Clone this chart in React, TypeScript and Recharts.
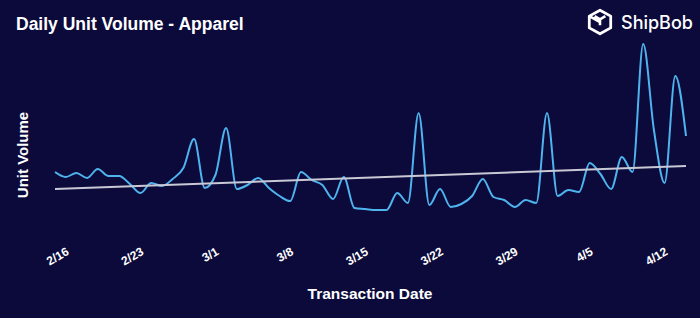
import { LineChart, Line, XAxis, YAxis, ReferenceLine } from "recharts";

// dates 2/15 .. 4/14 (2024), one point per day
const dates = [
  "2/15", "2/16", "2/17", "2/18", "2/19", "2/20", "2/21", "2/22", "2/23", "2/24",
  "2/25", "2/26", "2/27", "2/28", "2/29", "3/1", "3/2", "3/3", "3/4", "3/5",
  "3/6", "3/7", "3/8", "3/9", "3/10", "3/11", "3/12", "3/13", "3/14", "3/15",
  "3/16", "3/17", "3/18", "3/19", "3/20", "3/21", "3/22", "3/23", "3/24", "3/25",
  "3/26", "3/27", "3/28", "3/29", "3/30", "3/31", "4/1", "4/2", "4/3", "4/4",
  "4/5", "4/6", "4/7", "4/8", "4/9", "4/10", "4/11", "4/12", "4/13", "4/14",
];

// unit volume (relative units)
const units = [
  58, 53, 57, 52, 61, 54, 54, 46, 37, 47,
  44, 51, 62, 91, 42, 55, 102, 41, 45, 52,
  42, 34, 29, 58, 50, 45, 31, 53, 22, 21,
  20, 20, 37, 27, 117, 25, 41, 23, 26, 34,
  51, 33, 30, 23, 30, 27, 117, 34, 40, 38,
  67, 56, 41, 73, 58, 186, 100, 47, 154, 94,
];

const tickDates = ["2/16", "2/23", "3/1", "3/8", "3/15", "3/22", "3/29", "4/5", "4/12"];

// trend line end points
const trendStart = 41;
const trendEnd = 64;

const BG = "#0b0a3b";
const LINE = "#4fb3ee";
const FONT = "'Liberation Sans', Arial, Helvetica, sans-serif";

const DateTick = ({ x, y, payload }: any) => (
  <text
    x={x + 4}
    y={y}
    transform={`rotate(-30, ${x + 4}, ${y})`}
    textAnchor="end"
    fill="#ffffff"
    fontSize={12}
    fontWeight={700}
    fontFamily={FONT}
  >
    {payload.value}
  </text>
);

const ShipBobLogo = () => (
  <div style={{ position: "absolute", left: 585, top: 7, display: "flex", alignItems: "center" }}>
    <svg width={30} height={30} viewBox="0 0 28 28">
      <path
        d="M14 3 L24 8.5 L24 19.5 L14 25 L4 19.5 L4 8.5 Z"
        fill="none"
        stroke="#ffffff"
        strokeWidth={2.6}
        strokeLinejoin="round"
      />
      <path
        d="M9 8.5 L14 11.5 L19 8.5 M14 11.5 L14 17 M4 8.5 L14 14"
        fill="none"
        stroke="#ffffff"
        strokeWidth={2.4}
        strokeLinejoin="round"
      />
    </svg>
    <span
      style={{
        marginLeft: 6,
        color: "#ffffff",
        fontFamily: "Inter, 'Noto Sans', sans-serif",
        fontSize: 18,
        fontWeight: 500,
      }}
    >
      ShipBob
    </span>
  </div>
);

export default function App() {
  const data = dates.map((d, i) => ({ date: d, units: units[i] }));

  return (
    <div
      style={{
        position: "absolute",
        left: 0,
        top: 0,
        width: 700,
        height: 318,
        background: BG,
        overflow: "hidden",
      }}
    >
      <div
        style={{
          position: "absolute",
          left: 16,
          top: 14,
          color: "#ffffff",
          fontFamily: FONT,
          fontWeight: 700,
          fontSize: 17.5,
        }}
      >
        Daily Unit Volume - Apparel
      </div>
      <ShipBobLogo />
      <div
        style={{
          position: "absolute",
          left: 14,
          top: 155,
          transform: "translate(-50%, -50%) rotate(-90deg) translateY(8px)",
          color: "#ffffff",
          fontFamily: FONT,
          fontWeight: 700,
          fontSize: 15,
          whiteSpace: "nowrap",
        }}
      >
        Unit Volume
      </div>
      <div
        style={{
          position: "absolute",
          left: 40,
          width: 660,
          top: 285,
          textAlign: "center",
          color: "#ffffff",
          fontFamily: FONT,
          fontWeight: 700,
          fontSize: 15.5,
        }}
      >
        Transaction Date
      </div>
      <div style={{ position: "absolute", left: 0, top: 0 }}>
        <LineChart
          width={700}
          height={318}
          data={data}
          margin={{ top: 30, right: 14, left: 55, bottom: 0 }}
        >
          <XAxis
            dataKey="date"
            ticks={tickDates}
            interval={0}
            axisLine={false}
            tickLine={false}
            height={88}
            tick={<DateTick />}
            tickMargin={18}
          />
          <YAxis hide domain={[0, 200]} />
          <Line
            type="monotone"
            dataKey="units"
            stroke={LINE}
            strokeWidth={2}
            dot={false}
            isAnimationActive={false}
          />
          <ReferenceLine
            segment={[
              { x: dates[0], y: trendStart },
              { x: dates[dates.length - 1], y: trendEnd },
            ]}
            stroke="#c9c9d6"
            strokeWidth={2}
            ifOverflow="visible"
          />
        </LineChart>
      </div>
    </div>
  );
}
